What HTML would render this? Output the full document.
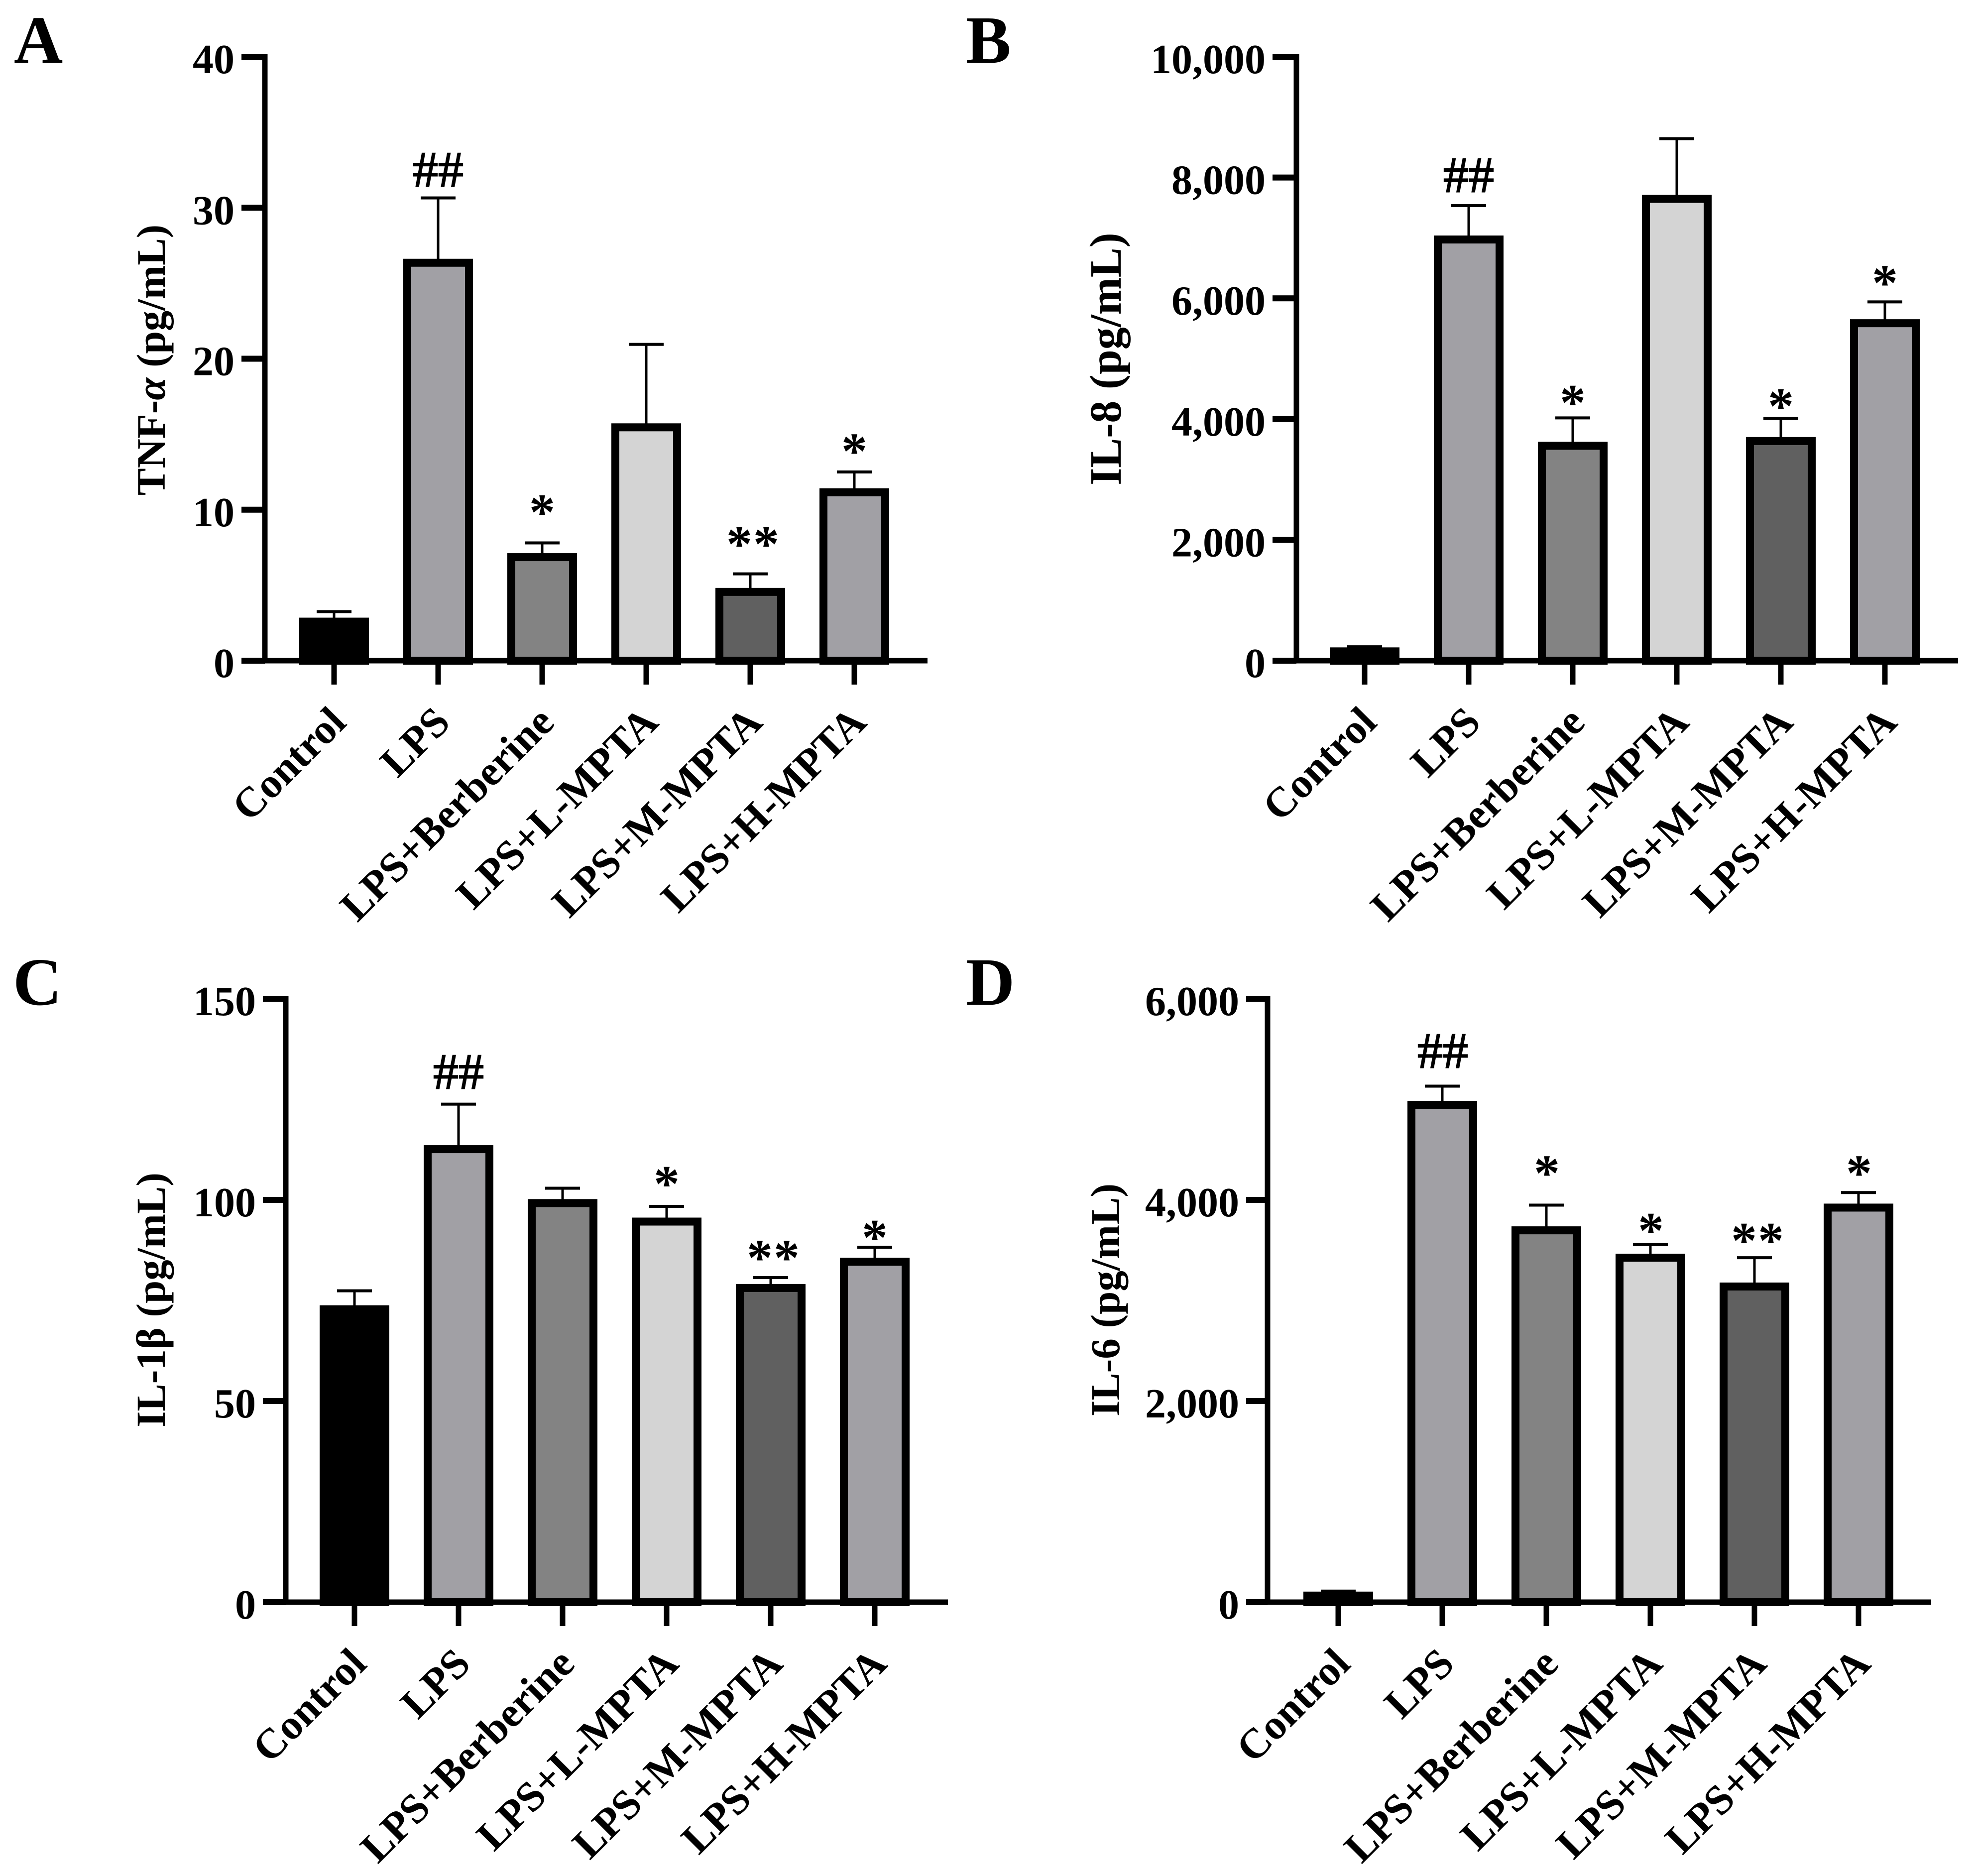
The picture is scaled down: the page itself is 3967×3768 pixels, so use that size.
<!DOCTYPE html>
<html lang="en">
<head>
<meta charset="utf-8">
<title>Cytokine levels bar charts</title>
<style>
  html, body { margin: 0; padding: 0; background: #fff; }
  #figure { display: block; width: 3967px; height: 3768px; }
  text { font-family: "Liberation Serif", serif; fill: #000; }
  .bold { font-weight: bold; }
</style>
</head>
<body>
<svg id="figure" xmlns="http://www.w3.org/2000/svg" width="3967" height="3768" viewBox="0 0 3967 3768">
  <rect x="0" y="0" width="3967" height="3768" fill="#ffffff"/>
</svg>
<script>
const categories = ["Control", "LPS", "LPS+Berberine", "LPS+L-MPTA", "LPS+M-MPTA", "LPS+H-MPTA"];
const barColors = ["#000000", "#a1a0a5", "#838383", "#d4d4d4", "#606060", "#a1a0a5"];

const tnfValues = [2.85, 26.62, 7.12, 15.72, 4.82, 11.42];
const tnfErrorTops = [3.25, 30.65, 7.8, 20.95, 5.75, 12.5];
const tnfMarks = ["", "##", "*", "", "**", "*"];
const tnfMarkLevels = [0, 32.4, 10.2, 0, 8.1, 14.25];
const tnfTicks = [0, 10, 20, 30, 40];
const tnfTickLabels = ["0", "10", "20", "30", "40"];

const il8Values = [220, 7040, 3624, 7713, 3703, 5654];
const il8ErrorTops = [230, 7535, 4020, 8644, 4010, 5941];
const il8Marks = ["", "##", "*", "", "*", "*"];
const il8MarkLevels = [0, 8010, 4366, 0, 4307, 6347];
const il8Ticks = [0, 2000, 4000, 6000, 8000, 10000];
const il8TickLabels = ["0", "2,000", "4,000", "6,000", "8,000", "10,000"];

const il1Values = [73.8, 113.6, 100.2, 95.6, 79.1, 85.6];
const il1ErrorTops = [77.4, 123.8, 102.9, 98.4, 80.7, 88.2];
const il1Marks = ["", "##", "", "*", "**", "*"];
const il1MarkLevels = [0, 131.4, 0, 105.4, 87, 92];
const il1Ticks = [0, 50, 100, 150];
const il1TickLabels = ["0", "50", "100", "150"];

const il6Values = [105, 4985, 3737, 3464, 3178, 3963];
const il6ErrorTops = [110, 5131, 3948, 3555, 3425, 4073];
const il6Marks = ["", "##", "*", "*", "**", "*"];
const il6MarkLevels = [0, 5463, 4322, 3751, 3650, 4322];
const il6Ticks = [0, 2000, 4000, 6000];
const il6TickLabels = ["0", "2,000", "4,000", "6,000"];

const SVG_NS = "http://www.w3.org/2000/svg";
const svg = document.getElementById("figure");

function make(tag, attrs, parent, text) {
  const el = document.createElementNS(SVG_NS, tag);
  for (const k in attrs) el.setAttribute(k, attrs[k]);
  if (text !== undefined) el.textContent = text;
  parent.appendChild(el);
  return el;
}

function drawPanel(p) {
  const g = make("g", {}, svg);
  
  

  const yMax = p.ticks[p.ticks.length - 1];
  const yScale = v => p.y0 - (v / yMax) * (p.y0 - p.yTop);
  const xScale = i => p.x0 + i * p.step;

  const letter = make("text", { x: p.letterX, y: p.letterY, "font-size": 136, class: "bold" }, g, p.letter);
  
  

  const title = make("text", {
    transform: "translate(" + p.titleX + "," + p.titleY + ") rotate(-90)",
    "text-anchor": "middle", "font-size": p.titleSize, class: "bold"
  }, g);
  
  
  p.title.forEach(part => {
    const s = make("tspan", part.italic ? { "font-style": "italic" } : {}, title, part.t);
    
    
  });

  categories.forEach((cat, i) => {
    const cx = xScale(i);
    const top = yScale(p.values[i]);
    const errY = yScale(p.errors[i]);

    const stem = make("rect", { x: cx - 2.5, y: errY, width: 5, height: Math.max(0, top - errY + 4), fill: "#000" }, g);
    
    

    const cap = make("rect", { x: cx - 35, y: errY - 3, width: 70, height: 6, fill: "#000" }, g);
    
    

    const inset = 8;
    const bar = make("rect", {
      x: cx - 70 + inset, y: top + inset, width: 140 - 2 * inset,
      height: Math.max(0, p.y0 - top - inset),
      fill: barColors[i], stroke: "#000", "stroke-width": 16
    }, g);
    
    

    const tick = make("rect", { x: cx - 5.5, y: p.y0, width: 11, height: 48, fill: "#000" }, g);
    
    

    const lx = cx + 28, ly = p.y0 + 128;
    const label = make("text", {
      transform: "translate(" + lx + "," + ly + ") rotate(-45)",
      "text-anchor": "end", "font-size": 84.5, class: "bold"
    }, g, cat);
    
    

    const m = p.marks[i];
    if (m) {
      const my = yScale(p.markLevels[i]);
      if (m[0] === "#") {
        const hash = make("text", {
          x: cx + p.markDx, y: my + 30, "font-size": 102, "text-anchor": "middle",
          stroke: "#000", "stroke-width": 2
        }, g, m);
        
        
      } else {
        const star = make("text", {
          x: cx + p.markDx + (m.length > 1 ? 6 : 0), y: my + 46, "font-size": 104, "text-anchor": "middle",
          "letter-spacing": m.length > 1 ? 2 : 0, class: "bold"
        }, g, m);
        
        
      }
    }
  });

  const yAxis = make("rect", { x: p.axisX - 5.5, y: p.yTop - 6, width: 11, height: p.y0 - p.yTop + 11, fill: "#000" }, g);
  
  

  const xAxis = make("rect", { x: p.tickLeft, y: p.y0 - 5.5, width: p.xEnd - p.tickLeft, height: 11, fill: "#000" }, g);
  
  

  p.ticks.forEach((v, i) => {
    const y = yScale(v);
    const t = make("rect", { x: p.tickLeft, y: y - 6, width: p.axisX - p.tickLeft, height: 12, fill: "#000" }, g);
    
    
    const l = make("text", { x: p.tickLeft - 14, y: y + 33, "font-size": 84, "text-anchor": "end", class: "bold" }, g, p.tickLabels[i]);
    
    
  });
}

drawPanel({
  id: "tnf", letter: "A", letterX: 28, letterY: 126,
  title: [{ t: "TNF-" }, { t: "α", italic: true }, { t: " (pg/mL)" }],
  titleX: 331, titleY: 723, titleSize: 82,
  axisX: 532, tickLeft: 485, xEnd: 1863, yTop: 114, y0: 1327,
  x0: 671, step: 209, markDx: 0,
  values: tnfValues, errors: tnfErrorTops, marks: tnfMarks, markLevels: tnfMarkLevels,
  ticks: tnfTicks, tickLabels: tnfTickLabels
});

drawPanel({
  id: "il8", letter: "B", letterX: 1940, letterY: 126,
  title: [{ t: "IL-8 (pg/mL)" }],
  titleX: 2251, titleY: 721, titleSize: 90,
  axisX: 2604, tickLeft: 2556, xEnd: 3933, yTop: 114, y0: 1327,
  x0: 2741, step: 209, markDx: 0,
  values: il8Values, errors: il8ErrorTops, marks: il8Marks, markLevels: il8MarkLevels,
  ticks: il8Ticks, tickLabels: il8TickLabels
});

drawPanel({
  id: "il1", letter: "C", letterX: 26, letterY: 2018,
  title: [{ t: "IL-1β (pg/mL)" }],
  titleX: 331, titleY: 2611, titleSize: 83,
  axisX: 574, tickLeft: 528, xEnd: 1904, yTop: 2006, y0: 3218,
  x0: 712, step: 209, markDx: 0,
  values: il1Values, errors: il1ErrorTops, marks: il1Marks, markLevels: il1MarkLevels,
  ticks: il1Ticks, tickLabels: il1TickLabels
});

drawPanel({
  id: "il6", letter: "D", letterX: 1940, letterY: 2018,
  title: [{ t: "IL-6 (pg/mL)" }],
  titleX: 2248, titleY: 2611, titleSize: 83,
  axisX: 2546, tickLeft: 2503, xEnd: 3879, yTop: 2006, y0: 3218,
  x0: 2688, step: 209, markDx: 1,
  values: il6Values, errors: il6ErrorTops, marks: il6Marks, markLevels: il6MarkLevels,
  ticks: il6Ticks, tickLabels: il6TickLabels
});
</script>
</body>
</html>
